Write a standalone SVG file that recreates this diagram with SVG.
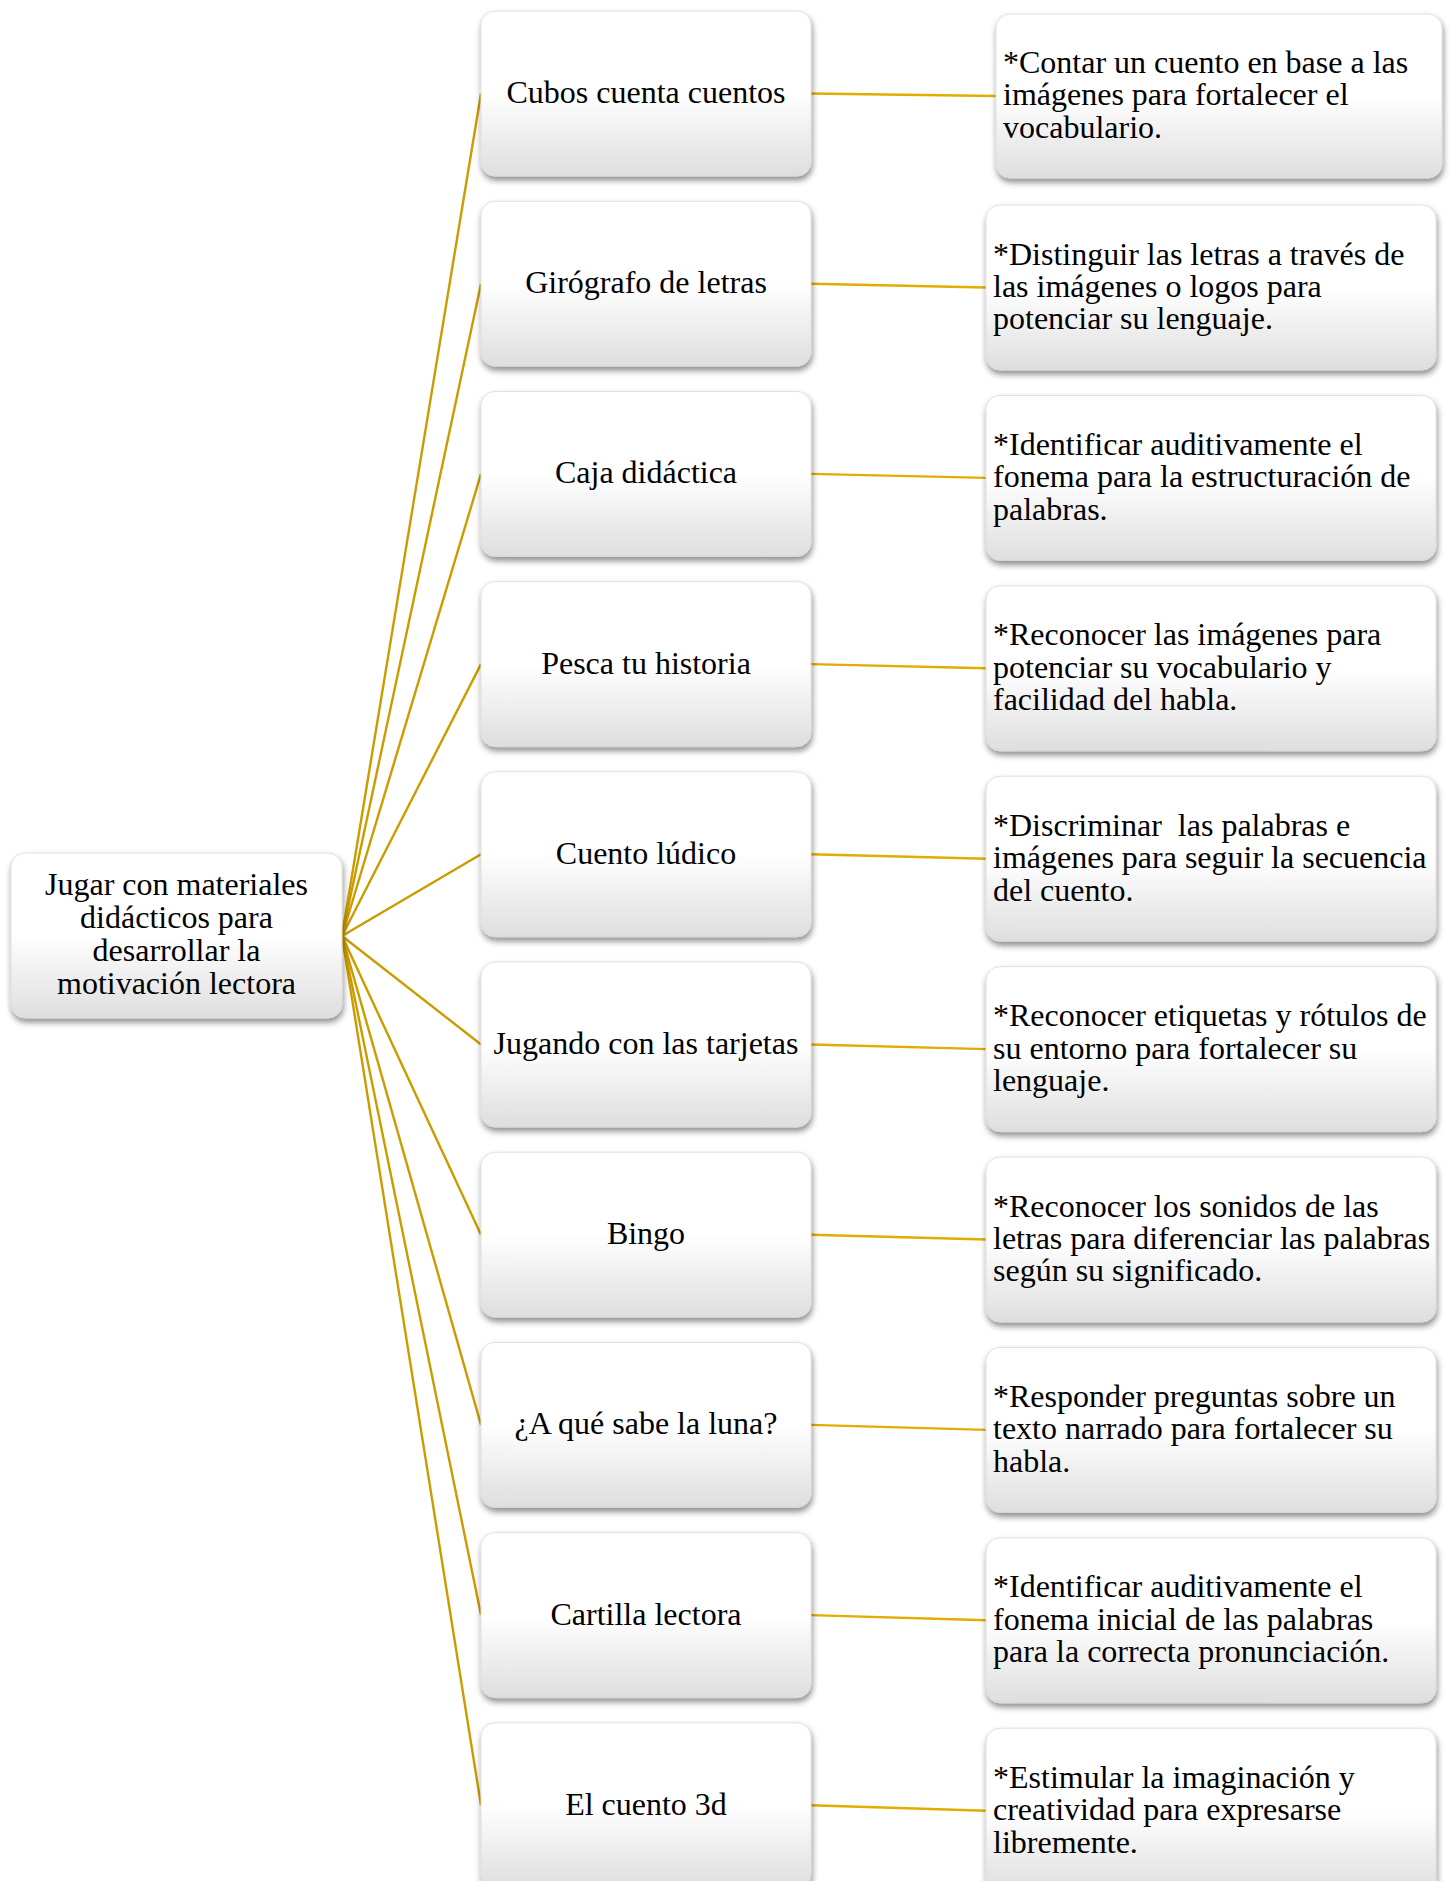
<svg xmlns="http://www.w3.org/2000/svg" width="1451" height="1881" viewBox="0 0 1451 1881">
<style>
.box{fill:url(#g);stroke:#d9d9d9;stroke-width:0.8;filter:url(#sh)}
.t{font-family:"Liberation Serif","Times New Roman",serif;font-size:32px;fill:#000}
.c{text-anchor:middle}
.ln{stroke:#CB9C00;stroke-width:2.4;fill:none}
.ln2{stroke:#E3AC00;stroke-width:2.4;fill:none}
</style>
<defs>
<linearGradient id="g" x1="0" y1="0" x2="0" y2="1">
<stop offset="0" stop-color="#ffffff"/>
<stop offset="0.5" stop-color="#ffffff"/>
<stop offset="1" stop-color="#dedede"/>
</linearGradient>
<filter id="sh" x="-10%" y="-10%" width="120%" height="130%">
<feDropShadow dx="1" dy="4" stdDeviation="3" flood-color="#000" flood-opacity="0.45"/>
</filter>
</defs>
<rect width="1451" height="1881" fill="#fff"/>
<g id="connectors">
<line class="ln" x1="342" y1="936" x2="481" y2="93.5"/>
<line class="ln" x1="342" y1="936" x2="481" y2="283.7"/>
<line class="ln" x1="342" y1="936" x2="481" y2="473.9"/>
<line class="ln" x1="342" y1="936" x2="481" y2="664.1"/>
<line class="ln" x1="342" y1="936" x2="481" y2="854.3"/>
<line class="ln" x1="342" y1="936" x2="481" y2="1044.5"/>
<line class="ln" x1="342" y1="936" x2="481" y2="1234.7"/>
<line class="ln" x1="342" y1="936" x2="481" y2="1424.9"/>
<line class="ln" x1="342" y1="936" x2="481" y2="1615.1"/>
<line class="ln" x1="342" y1="936" x2="481" y2="1805.3"/>
<line class="ln2" x1="811" y1="93.5" x2="996" y2="96"/>
<line class="ln2" x1="811" y1="283.7" x2="986" y2="287.5"/>
<line class="ln2" x1="811" y1="473.9" x2="986" y2="477.9"/>
<line class="ln2" x1="811" y1="664.1" x2="986" y2="668.3"/>
<line class="ln2" x1="811" y1="854.3" x2="986" y2="858.7"/>
<line class="ln2" x1="811" y1="1044.5" x2="986" y2="1049.1"/>
<line class="ln2" x1="811" y1="1234.7" x2="986" y2="1239.5"/>
<line class="ln2" x1="811" y1="1424.9" x2="986" y2="1429.9"/>
<line class="ln2" x1="811" y1="1615.1" x2="986" y2="1620.3"/>
<line class="ln2" x1="811" y1="1805.3" x2="986" y2="1810.7"/>
</g>
<g id="root">
<rect class="box" x="11" y="853" width="331" height="165" rx="14"/>
<text class="t c" x="176.5"><tspan x="176.5" y="895">Jugar con materiales</tspan><tspan x="176.5" y="928">didácticos para</tspan><tspan x="176.5" y="961">desarrollar la</tspan><tspan x="176.5" y="994">motivación lectora</tspan></text>
</g>
<g id="m1"><rect class="box" x="481" y="11" width="330" height="165" rx="14"/><text class="t c" x="646" y="103">Cubos cuenta cuentos</text></g>
<g id="m2"><rect class="box" x="481" y="201.2" width="330" height="165" rx="14"/><text class="t c" x="646" y="293.2">Girógrafo de letras</text></g>
<g id="m3"><rect class="box" x="481" y="391.4" width="330" height="165" rx="14"/><text class="t c" x="646" y="483.4">Caja didáctica</text></g>
<g id="m4"><rect class="box" x="481" y="581.6" width="330" height="165" rx="14"/><text class="t c" x="646" y="673.6">Pesca tu historia</text></g>
<g id="m5"><rect class="box" x="481" y="771.8" width="330" height="165" rx="14"/><text class="t c" x="646" y="863.8">Cuento lúdico</text></g>
<g id="m6"><rect class="box" x="481" y="962" width="330" height="165" rx="14"/><text class="t c" x="646" y="1054">Jugando con las tarjetas</text></g>
<g id="m7"><rect class="box" x="481" y="1152.2" width="330" height="165" rx="14"/><text class="t c" x="646" y="1244.2">Bingo</text></g>
<g id="m8"><rect class="box" x="481" y="1342.4" width="330" height="165" rx="14"/><text class="t c" x="646" y="1434.4">¿A qué sabe la luna?</text></g>
<g id="m9"><rect class="box" x="481" y="1532.6" width="330" height="165" rx="14"/><text class="t c" x="646" y="1624.6">Cartilla lectora</text></g>
<g id="m10"><rect class="box" x="481" y="1722.8" width="330" height="165" rx="14"/><text class="t c" x="646" y="1814.8">El cuento 3d</text></g>
<g id="r1"><rect class="box" x="996" y="14" width="446" height="164" rx="14"/><text class="t"><tspan x="1003" y="73">*Contar un cuento en base a las</tspan><tspan x="1003" y="105.4">imágenes para fortalecer el</tspan><tspan x="1003" y="137.8">vocabulario.</tspan></text></g>
<g id="r2"><rect class="box" x="986" y="205" width="450" height="165" rx="14"/><text class="t"><tspan x="993" y="264.5">*Distinguir las letras a través de</tspan><tspan x="993" y="296.9">las imágenes o logos para</tspan><tspan x="993" y="329.3">potenciar su lenguaje.</tspan></text></g>
<g id="r3"><rect class="box" x="986" y="395.4" width="450" height="165" rx="14"/><text class="t"><tspan x="993" y="454.9">*Identificar auditivamente el</tspan><tspan x="993" y="487.3">fonema para la estructuración de</tspan><tspan x="993" y="519.7">palabras.</tspan></text></g>
<g id="r4"><rect class="box" x="986" y="585.8" width="450" height="165" rx="14"/><text class="t"><tspan x="993" y="645.3">*Reconocer las imágenes para</tspan><tspan x="993" y="677.7">potenciar su vocabulario y</tspan><tspan x="993" y="710.1">facilidad del habla.</tspan></text></g>
<g id="r5"><rect class="box" x="986" y="776.2" width="450" height="165" rx="14"/><text class="t" xml:space="preserve"><tspan x="993" y="835.7">*Discriminar  las palabras e</tspan><tspan x="993" y="868.1">imágenes para seguir la secuencia</tspan><tspan x="993" y="900.5">del cuento.</tspan></text></g>
<g id="r6"><rect class="box" x="986" y="966.6" width="450" height="165" rx="14"/><text class="t"><tspan x="993" y="1026.1">*Reconocer etiquetas y rótulos de</tspan><tspan x="993" y="1058.5">su entorno para fortalecer su</tspan><tspan x="993" y="1090.9">lenguaje.</tspan></text></g>
<g id="r7"><rect class="box" x="986" y="1157" width="450" height="165" rx="14"/><text class="t"><tspan x="993" y="1216.5">*Reconocer los sonidos de las</tspan><tspan x="993" y="1248.9">letras para diferenciar las palabras</tspan><tspan x="993" y="1281.3">según su significado.</tspan></text></g>
<g id="r8"><rect class="box" x="986" y="1347.4" width="450" height="165" rx="14"/><text class="t"><tspan x="993" y="1406.9">*Responder preguntas sobre un</tspan><tspan x="993" y="1439.3">texto narrado para fortalecer su</tspan><tspan x="993" y="1471.7">habla.</tspan></text></g>
<g id="r9"><rect class="box" x="986" y="1537.8" width="450" height="165" rx="14"/><text class="t"><tspan x="993" y="1597.3">*Identificar auditivamente el</tspan><tspan x="993" y="1629.7">fonema inicial de las palabras</tspan><tspan x="993" y="1662.1">para la correcta pronunciación.</tspan></text></g>
<g id="r10"><rect class="box" x="986" y="1728.2" width="450" height="165" rx="14"/><text class="t"><tspan x="993" y="1787.7">*Estimular la imaginación y</tspan><tspan x="993" y="1820.1">creatividad para expresarse</tspan><tspan x="993" y="1852.5">libremente.</tspan></text></g>
</svg>
